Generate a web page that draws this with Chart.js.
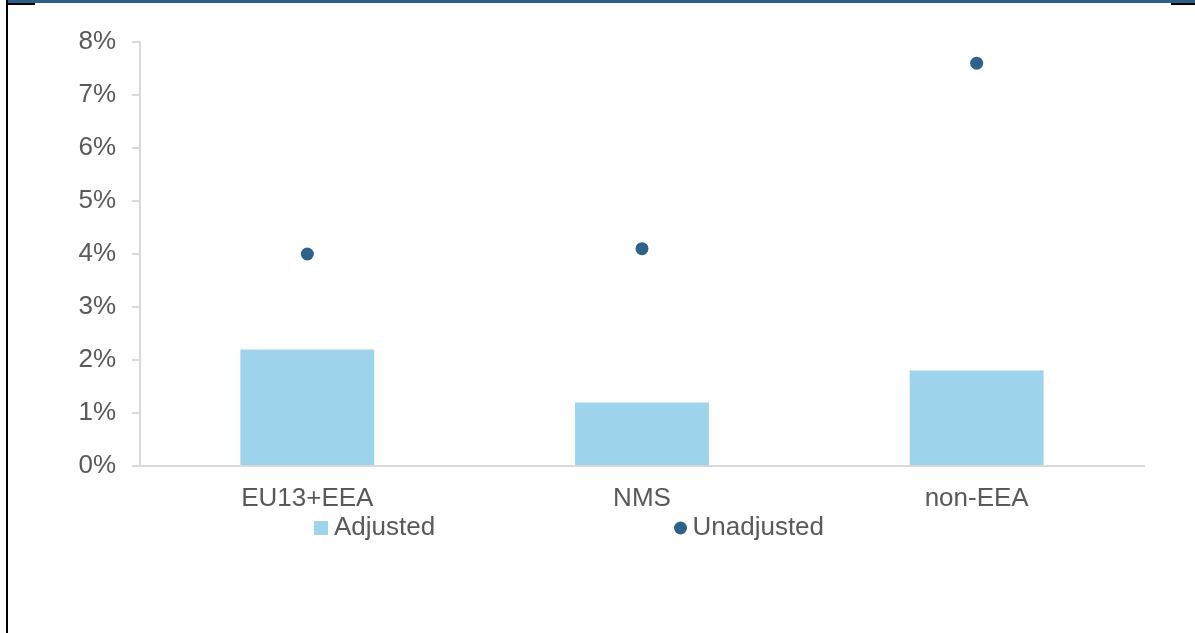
<!DOCTYPE html>
<html lang="en">
    <head>
        <meta charset="utf-8" />
        <script src="https://cdn.jsdelivr.net/npm/chart.js@4.4.1/dist/chart.umd.min.js"></script>
        <title>Adjusted vs unadjusted</title>
        <style>
            body { margin: 0; background: #fff; }
            #wrap { position: relative; width: 1195px; height: 633px; overflow: hidden; }
            #grafico { position: absolute; left: 0; top: 0; }
            .linea { position: absolute; }
        </style>
    </head>
    <body>
        <div id="wrap">
            <canvas id="grafico" width="1195" height="633"></canvas>
            <!-- marco de la figura -->
            <div class="linea" style="left:7px; top:0; width:1188px; height:3px; background:#2F5F86;"></div>
            <div class="linea" style="left:7px; top:3px; width:28px; height:2px; background:#000;"></div>
            <div class="linea" style="left:1171px; top:3px; width:24px; height:2px; background:#000;"></div>
            <div class="linea" style="left:6px; top:0; width:2px; height:633px; background:#000;"></div>
        </div>
        <script>
            // datos
            const categorias = ["EU13+EEA", "NMS", "non-EEA"];
            const ajustado = [2.2, 1.2, 1.8];
            const sinAjustar = [4.0, 4.1, 7.6];
            const nombres = ["Adjusted", "Unadjusted"];
            const colores = ["#9DD3EB", "#2E628A"];

            const fuente = { family: "'Liberation Sans', Arial, sans-serif", size: 26 };
            const gris = "#595959";

            // leyenda dibujada a mano para respetar el espaciado del original
            const leyenda = {
                id: "leyenda",
                afterDraw(chart) {
                    const ctx = chart.ctx;
                    const ds = chart.data.datasets;
                    ctx.save();
                    ctx.font = "26px 'Liberation Sans', Arial, sans-serif";
                    ctx.textBaseline = "alphabetic";
                    ctx.textAlign = "left";
                    // Adjusted
                    ctx.fillStyle = ds[0].backgroundColor;
                    ctx.fillRect(314, 521, 14, 14);
                    ctx.fillStyle = gris;
                    ctx.fillText(ds[0].label, 334, 535);
                    // Unadjusted
                    ctx.fillStyle = ds[1].backgroundColor;
                    ctx.beginPath();
                    ctx.arc(680.5, 528, 6.5, 0, Math.PI * 2);
                    ctx.fill();
                    ctx.fillStyle = gris;
                    ctx.fillText(ds[1].label, 692.5, 535);
                    ctx.restore();
                }
            };

            new Chart(document.getElementById("grafico").getContext("2d"), {
                data: {
                    labels: categorias,
                    datasets: [
                        {
                            type: "bar",
                            label: nombres[0],
                            data: ajustado,
                            backgroundColor: colores[0],
                            barPercentage: 0.4,
                            categoryPercentage: 1,
                            order: 2
                        },
                        {
                            type: "line",
                            label: nombres[1],
                            data: sinAjustar,
                            showLine: false,
                            backgroundColor: colores[1],
                            borderColor: colores[1],
                            pointRadius: 6.5,
                            pointBorderWidth: 0,
                            order: 1
                        }
                    ]
                },
                plugins: [leyenda],
                options: {
                    responsive: false,
                    animation: false,
                    layout: { padding: { left: 0, right: 51, top: 42, bottom: 0 } },
                    plugins: {
                        legend: { display: false },
                        tooltip: { enabled: false }
                    },
                    scales: {
                        x: {
                            offset: true,
                            grid: { display: false, drawTicks: false },
                            border: { display: true, color: "#D9D9D9", width: 2 },
                            ticks: { color: gris, font: fuente, padding: 17, maxRotation: 0 },
                            afterFit(escala) { escala.height = 167; }
                        },
                        y: {
                            min: 0,
                            max: 8,
                            grid: { drawOnChartArea: false, drawTicks: true, tickLength: 8, color: "#D9D9D9", lineWidth: 2 },
                            border: { display: true, color: "#D9D9D9", width: 2 },
                            ticks: {
                                stepSize: 1,
                                color: gris,
                                font: fuente,
                                padding: 16,
                                callback: function (v) { return v + "%"; }
                            },
                            afterFit(escala) { escala.width = 140; }
                        }
                    }
                }
            });
        </script>
    </body>
</html>
